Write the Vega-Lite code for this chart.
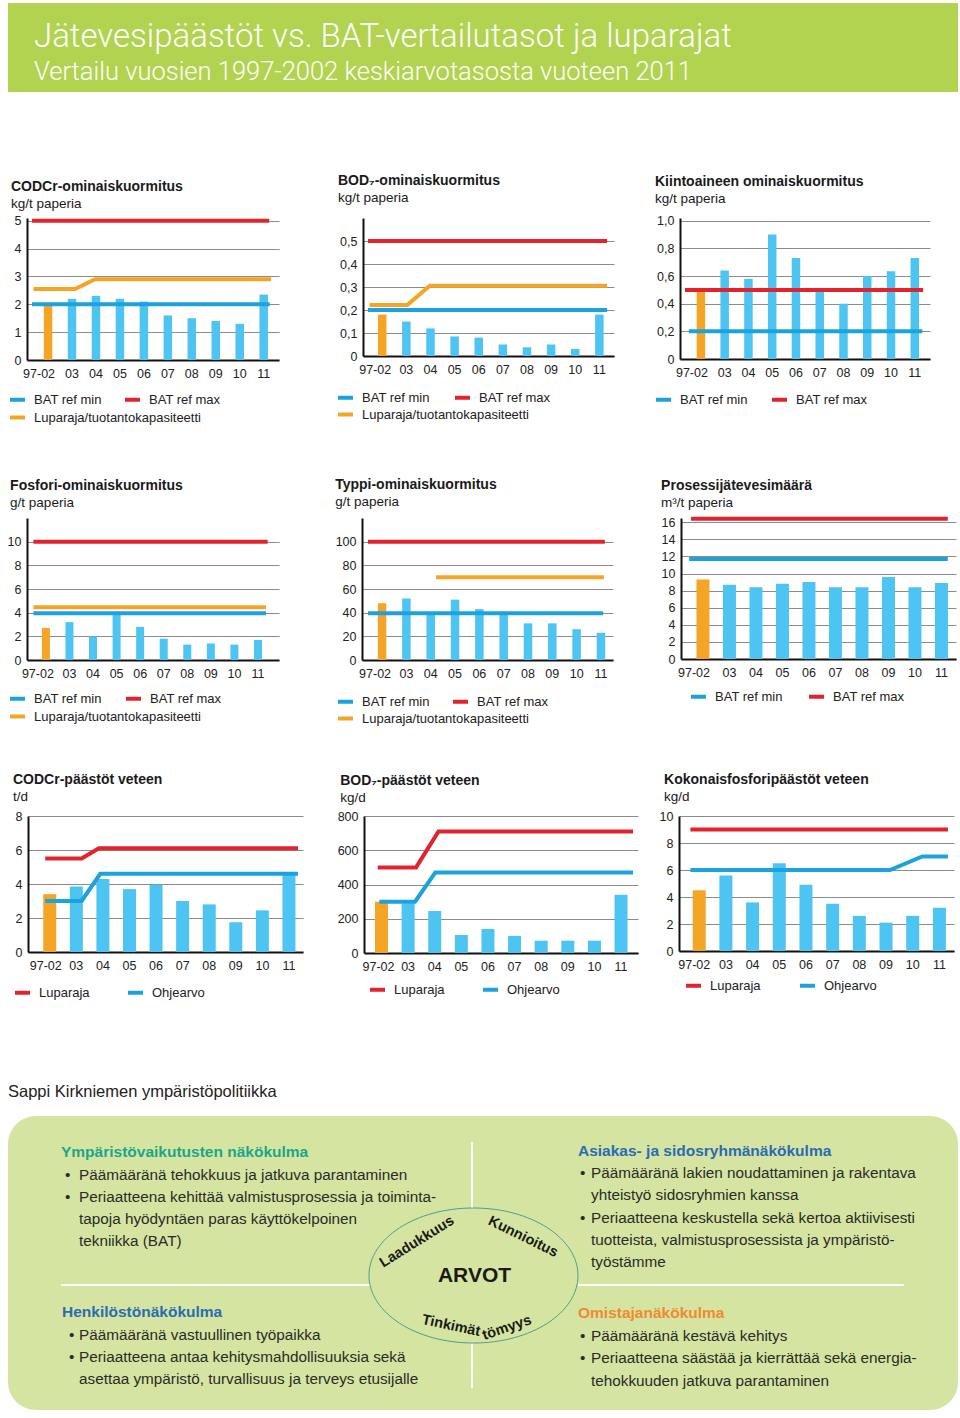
{
"$schema": "https://vega.github.io/schema/vega-lite/v6.json",
"background": "white",
"padding": {"left": 7, "top": 3, "right": 3, "bottom": 3},
"config": {
  "view": {"stroke": null},
  "font": "Liberation Sans",
  "title": {"anchor": "start", "frame": "bounds", "fontSize": 14, "fontWeight": "bold", "subtitleFontSize": 13.5, "subtitlePadding": 3, "color": "#1a1a1a", "subtitleColor": "#1a1a1a", "font": "Liberation Sans", "subtitleFont": "Liberation Sans"},
  "axisY": {"domainColor": "#111", "domainWidth": 2, "ticks": false, "labelPadding": 6, "labelFontSize": 12.5, "labelColor": "#222", "labelOverlap": false, "gridColor": "#8c8c8c", "gridWidth": 1, "grid": true},
  "axisX": {"labels": false, "ticks": false, "grid": false, "domainColor": "#111", "domainWidth": 2, "zindex": 1},
  "legend": {"orient": "none", "direction": "horizontal", "symbolType": "stroke", "symbolStrokeWidth": 4, "symbolSize": 225, "labelFontSize": 13, "labelColor": "#222", "labelOffset": 7, "labelLimit": 260}
},
"datasets": {
  "bars": [
    {"c":"cod","year":"97-02","i":0,"v":2.0},{"c":"cod","year":"03","i":1,"v":2.2},{"c":"cod","year":"04","i":2,"v":2.3},{"c":"cod","year":"05","i":3,"v":2.2},{"c":"cod","year":"06","i":4,"v":2.1},{"c":"cod","year":"07","i":5,"v":1.6},{"c":"cod","year":"08","i":6,"v":1.5},{"c":"cod","year":"09","i":7,"v":1.4},{"c":"cod","year":"10","i":8,"v":1.3},{"c":"cod","year":"11","i":9,"v":2.35},
    {"c":"bod","year":"97-02","i":0,"v":0.18},{"c":"bod","year":"03","i":1,"v":0.15},{"c":"bod","year":"04","i":2,"v":0.12},{"c":"bod","year":"05","i":3,"v":0.085},{"c":"bod","year":"06","i":4,"v":0.08},{"c":"bod","year":"07","i":5,"v":0.05},{"c":"bod","year":"08","i":6,"v":0.038},{"c":"bod","year":"09","i":7,"v":0.05},{"c":"bod","year":"10","i":8,"v":0.031},{"c":"bod","year":"11","i":9,"v":0.18},
    {"c":"kiinto","year":"97-02","i":0,"v":0.5},{"c":"kiinto","year":"03","i":1,"v":0.64},{"c":"kiinto","year":"04","i":2,"v":0.58},{"c":"kiinto","year":"05","i":3,"v":0.9},{"c":"kiinto","year":"06","i":4,"v":0.73},{"c":"kiinto","year":"07","i":5,"v":0.49},{"c":"kiinto","year":"08","i":6,"v":0.4},{"c":"kiinto","year":"09","i":7,"v":0.6},{"c":"kiinto","year":"10","i":8,"v":0.635},{"c":"kiinto","year":"11","i":9,"v":0.73},
    {"c":"fosfori","year":"97-02","i":0,"v":2.7},{"c":"fosfori","year":"03","i":1,"v":3.2},{"c":"fosfori","year":"04","i":2,"v":2.0},{"c":"fosfori","year":"05","i":3,"v":3.8},{"c":"fosfori","year":"06","i":4,"v":2.8},{"c":"fosfori","year":"07","i":5,"v":1.8},{"c":"fosfori","year":"08","i":6,"v":1.3},{"c":"fosfori","year":"09","i":7,"v":1.4},{"c":"fosfori","year":"10","i":8,"v":1.3},{"c":"fosfori","year":"11","i":9,"v":1.7},
    {"c":"typpi","year":"97-02","i":0,"v":48},{"c":"typpi","year":"03","i":1,"v":52},{"c":"typpi","year":"04","i":2,"v":39},{"c":"typpi","year":"05","i":3,"v":51},{"c":"typpi","year":"06","i":4,"v":43},{"c":"typpi","year":"07","i":5,"v":39},{"c":"typpi","year":"08","i":6,"v":31},{"c":"typpi","year":"09","i":7,"v":31},{"c":"typpi","year":"10","i":8,"v":26},{"c":"typpi","year":"11","i":9,"v":23},
    {"c":"prosessi","year":"97-02","i":0,"v":9.3},{"c":"prosessi","year":"03","i":1,"v":8.7},{"c":"prosessi","year":"04","i":2,"v":8.4},{"c":"prosessi","year":"05","i":3,"v":8.8},{"c":"prosessi","year":"06","i":4,"v":9.0},{"c":"prosessi","year":"07","i":5,"v":8.4},{"c":"prosessi","year":"08","i":6,"v":8.4},{"c":"prosessi","year":"09","i":7,"v":9.6},{"c":"prosessi","year":"10","i":8,"v":8.4},{"c":"prosessi","year":"11","i":9,"v":8.9},
    {"c":"codp","year":"97-02","i":0,"v":3.4},{"c":"codp","year":"03","i":1,"v":3.85},{"c":"codp","year":"04","i":2,"v":4.3},{"c":"codp","year":"05","i":3,"v":3.7},{"c":"codp","year":"06","i":4,"v":3.95},{"c":"codp","year":"07","i":5,"v":3.0},{"c":"codp","year":"08","i":6,"v":2.8},{"c":"codp","year":"09","i":7,"v":1.75},{"c":"codp","year":"10","i":8,"v":2.45},{"c":"codp","year":"11","i":9,"v":4.6},
    {"c":"bodp","year":"97-02","i":0,"v":300},{"c":"bodp","year":"03","i":1,"v":290},{"c":"bodp","year":"04","i":2,"v":245},{"c":"bodp","year":"05","i":3,"v":105},{"c":"bodp","year":"06","i":4,"v":140},{"c":"bodp","year":"07","i":5,"v":100},{"c":"bodp","year":"08","i":6,"v":72},{"c":"bodp","year":"09","i":7,"v":72},{"c":"bodp","year":"10","i":8,"v":72},{"c":"bodp","year":"11","i":9,"v":340},
    {"c":"fosp","year":"97-02","i":0,"v":4.5},{"c":"fosp","year":"03","i":1,"v":5.6},{"c":"fosp","year":"04","i":2,"v":3.6},{"c":"fosp","year":"05","i":3,"v":6.5},{"c":"fosp","year":"06","i":4,"v":4.9},{"c":"fosp","year":"07","i":5,"v":3.5},{"c":"fosp","year":"08","i":6,"v":2.6},{"c":"fosp","year":"09","i":7,"v":2.1},{"c":"fosp","year":"10","i":8,"v":2.6},{"c":"fosp","year":"11","i":9,"v":3.2}
  ],
  "lines": [
    {"c":"cod","s":"BAT ref max","i":-0.67,"v":5},{"c":"cod","s":"BAT ref max","i":9.23,"v":5},
    {"c":"cod","s":"BAT ref min","i":-0.67,"v":2},{"c":"cod","s":"BAT ref min","i":9.25,"v":2},
    {"c":"cod","s":"Luparaja/tuotantokapasiteetti","i":-0.61,"v":2.55},{"c":"cod","s":"Luparaja/tuotantokapasiteetti","i":1.13,"v":2.55},{"c":"cod","s":"Luparaja/tuotantokapasiteetti","i":1.96,"v":2.9},{"c":"cod","s":"Luparaja/tuotantokapasiteetti","i":9.31,"v":2.9},
    {"c":"bod","s":"BAT ref max","i":-0.59,"v":0.5},{"c":"bod","s":"BAT ref max","i":9.32,"v":0.5},
    {"c":"bod","s":"BAT ref min","i":-0.59,"v":0.2},{"c":"bod","s":"BAT ref min","i":9.32,"v":0.2},
    {"c":"bod","s":"Luparaja/tuotantokapasiteetti","i":-0.53,"v":0.222},{"c":"bod","s":"Luparaja/tuotantokapasiteetti","i":1.04,"v":0.222},{"c":"bod","s":"Luparaja/tuotantokapasiteetti","i":1.97,"v":0.305},{"c":"bod","s":"Luparaja/tuotantokapasiteetti","i":9.32,"v":0.305},
    {"c":"kiinto","s":"BAT ref max","i":-0.67,"v":0.5},{"c":"kiinto","s":"BAT ref max","i":9.35,"v":0.5},
    {"c":"kiinto","s":"BAT ref min","i":-0.51,"v":0.2},{"c":"kiinto","s":"BAT ref min","i":9.32,"v":0.2},
    {"c":"fosfori","s":"BAT ref max","i":-0.53,"v":10},{"c":"fosfori","s":"BAT ref max","i":9.41,"v":10},
    {"c":"fosfori","s":"BAT ref min","i":-0.53,"v":3.95},{"c":"fosfori","s":"BAT ref min","i":9.34,"v":3.95},
    {"c":"fosfori","s":"Luparaja/tuotantokapasiteetti","i":-0.53,"v":4.45},{"c":"fosfori","s":"Luparaja/tuotantokapasiteetti","i":9.34,"v":4.45},
    {"c":"typpi","s":"BAT ref max","i":-0.58,"v":100},{"c":"typpi","s":"BAT ref max","i":9.16,"v":100},
    {"c":"typpi","s":"BAT ref min","i":-0.58,"v":39.5},{"c":"typpi","s":"BAT ref min","i":9.09,"v":39.5},
    {"c":"typpi","s":"Luparaja/tuotantokapasiteetti","i":2.22,"v":70},{"c":"typpi","s":"Luparaja/tuotantokapasiteetti","i":9.12,"v":70},
    {"c":"prosessi","s":"BAT ref max","i":-0.45,"v":16.4},{"c":"prosessi","s":"BAT ref max","i":9.24,"v":16.4},
    {"c":"prosessi","s":"BAT ref min","i":-0.52,"v":11.7},{"c":"prosessi","s":"BAT ref min","i":9.24,"v":11.7},
    {"c":"codp","s":"Luparaja","i":-0.17,"v":5.5},{"c":"codp","s":"Luparaja","i":1.2,"v":5.5},{"c":"codp","s":"Luparaja","i":1.85,"v":6.1},{"c":"codp","s":"Luparaja","i":9.34,"v":6.1},
    {"c":"codp","s":"Ohjearvo","i":-0.17,"v":3.0},{"c":"codp","s":"Ohjearvo","i":1.2,"v":3.0},{"c":"codp","s":"Ohjearvo","i":1.9,"v":4.6},{"c":"codp","s":"Ohjearvo","i":9.34,"v":4.6},
    {"c":"bodp","s":"Luparaja","i":-0.14,"v":500},{"c":"bodp","s":"Luparaja","i":1.3,"v":500},{"c":"bodp","s":"Luparaja","i":2.14,"v":710},{"c":"bodp","s":"Luparaja","i":9.45,"v":710},
    {"c":"bodp","s":"Ohjearvo","i":-0.08,"v":300},{"c":"bodp","s":"Ohjearvo","i":1.26,"v":300},{"c":"bodp","s":"Ohjearvo","i":2.02,"v":470},{"c":"bodp","s":"Ohjearvo","i":9.45,"v":470},
    {"c":"fosp","s":"Luparaja","i":-0.33,"v":9},{"c":"fosp","s":"Luparaja","i":9.32,"v":9},
    {"c":"fosp","s":"Ohjearvo","i":-0.33,"v":6},{"c":"fosp","s":"Ohjearvo","i":7.15,"v":6},{"c":"fosp","s":"Ohjearvo","i":8.36,"v":7},{"c":"fosp","s":"Ohjearvo","i":9.32,"v":7}
  ]
},
"spacing": 0,
"bounds": "flush",
"resolve": {"scale": {"color": "independent", "stroke": "independent"}, "legend": {"color": "independent", "stroke": "independent"}},
"vconcat": [
  {
    "width": 950, "height": 89,
    "view": {"fill": "#b2d34f", "stroke": null},
    "layer": [
      {"data": {"values": [{"t": "Jätevesipäästöt vs. BAT-vertailutasot ja luparajat"}]},
       "mark": {"type": "text", "font": "Roboto", "fontWeight": 300, "fontSize": 33, "color": "white", "align": "left", "baseline": "alphabetic"},
       "encoding": {"x": {"value": 26}, "y": {"value": 44}, "text": {"field": "t"}}},
      {"data": {"values": [{"t": "Vertailu vuosien 1997-2002 keskiarvotasosta vuoteen 2011"}]},
       "mark": {"type": "text", "font": "Roboto", "fontWeight": 300, "fontSize": 25.5, "color": "white", "align": "left", "baseline": "alphabetic"},
       "encoding": {"x": {"value": 26}, "y": {"value": 77}, "text": {"field": "t"}}}
    ]
  },
  {"width": 10, "height": 126, "data": {"values": []}, "mark": "point"},
  {
    "spacing": 0, "bounds": "flush",
    "resolve": {"scale": {"color": "independent", "stroke": "independent"}, "legend": {"color": "independent", "stroke": "independent"}},
    "hconcat": [
      {"width": 19, "height": 1, "data": {"values": []}, "mark": "point"},
      {
        "width": 252, "height": 142,
        "title": {"text": "CODCr-ominaiskuormitus", "subtitle": "kg/t paperia", "offset": 2, "dx": 3},
        "layer": [
          {"data": {"name": "bars"}, "transform": [{"filter": {"field": "c", "equal": "cod"}}],
           "mark": {"type": "bar", "width": 8.5},
           "encoding": {
             "x": {"field": "i", "type": "quantitative", "scale": {"domain": [-0.67, 9.43], "nice": false, "zero": false}, "axis": {"title": null}},
             "y": {"field": "v", "type": "quantitative", "scale": {"domain": [0, 5.1], "nice": false}, "axis": {"title": null, "values": [0,1,2,3,4,5]}},
             "color": {"condition": {"test": "datum.year === '97-02'", "value": "#f4a526"}, "value": "#4ec4f2"}}},
          {"data": {"name": "bars"}, "transform": [{"filter": {"field": "c", "equal": "cod"}}, {"filter": "datum.year !== '97-02'"}],
           "mark": {"type": "text", "dy": 14, "fontSize": 12.5, "color": "#222"},
           "encoding": {"x": {"field": "i", "type": "quantitative", "axis": {"title": null}}, "y": {"datum": 0, "type": "quantitative", "axis": {"title": null, "values": [0,1,2,3,4,5]}}, "text": {"field": "year"}}},
          {"data": {"name": "bars"}, "transform": [{"filter": {"field": "c", "equal": "cod"}}, {"filter": "datum.year === '97-02'"}],
           "mark": {"type": "text", "dy": 14, "dx": -9, "fontSize": 12.5, "color": "#222"},
           "encoding": {"x": {"field": "i", "type": "quantitative", "axis": {"title": null}}, "y": {"datum": 0, "type": "quantitative", "axis": {"title": null, "values": [0,1,2,3,4,5]}}, "text": {"field": "year"}}},
          {"data": {"name": "lines"}, "transform": [{"filter": {"field": "c", "equal": "cod"}}, {"filter": "datum.s !== 'Luparaja/tuotantokapasiteetti'"}],
           "mark": {"type": "line", "strokeWidth": 4, "strokeCap": "butt"},
           "encoding": {"x": {"field": "i", "type": "quantitative", "axis": {"title": null}}, "y": {"field": "v", "type": "quantitative", "axis": {"title": null, "values": [0,1,2,3,4,5]}},
             "color": {"field": "s", "type": "nominal", "scale": {"domain": ["BAT ref min", "BAT ref max"], "range": ["#1ca2dd", "#e3232c"]},
               "legend": {"title": null, "legendX": -19, "legendY": 172, "columnPadding": 15}}}},
          {"data": {"name": "lines"}, "transform": [{"filter": {"field": "c", "equal": "cod"}}, {"filter": "datum.s === 'Luparaja/tuotantokapasiteetti'"}],
           "mark": {"type": "line", "strokeWidth": 4, "strokeCap": "butt"},
           "encoding": {"x": {"field": "i", "type": "quantitative", "axis": {"title": null}}, "y": {"field": "v", "type": "quantitative", "axis": {"title": null, "values": [0,1,2,3,4,5]}},
             "stroke": {"field": "s", "type": "nominal", "scale": {"domain": ["Luparaja/tuotantokapasiteetti"], "range": ["#f4a526"]},
               "legend": {"title": null, "legendX": -19, "legendY": 190}}}}
        ]
      },
      {"width": 84, "height": 1, "data": {"values": []}, "mark": "point"},
      {
        "width": 251, "height": 138,
        "title": {"text": "BOD₇-ominaiskuormitus", "subtitle": "kg/t paperia", "offset": 14, "dx": 2},
        "layer": [
          {"data": {"name": "bars"}, "transform": [{"filter": {"field": "c", "equal": "bod"}}],
           "mark": {"type": "bar", "width": 8.5},
           "encoding": {
             "x": {"field": "i", "type": "quantitative", "scale": {"domain": [-0.59, 9.4], "nice": false, "zero": false}, "axis": {"title": null}},
             "y": {"field": "v", "type": "quantitative", "scale": {"domain": [0, 0.6], "nice": false}, "axis": {"title": null, "values": [0,0.1,0.2,0.3,0.4,0.5], "labelExpr": "datum.value == 0 ? '0' : replace(format(datum.value, '.1f'), '.', ',')"}},
             "color": {"condition": {"test": "datum.year === '97-02'", "value": "#f4a526"}, "value": "#4ec4f2"}}},
          {"data": {"name": "bars"}, "transform": [{"filter": {"field": "c", "equal": "bod"}}, {"filter": "datum.year !== '97-02'"}],
           "mark": {"type": "text", "dy": 14, "fontSize": 12.5, "color": "#222"},
           "encoding": {"x": {"field": "i", "type": "quantitative", "axis": {"title": null}}, "y": {"datum": 0, "type": "quantitative", "axis": {"title": null, "values": [0,0.1,0.2,0.3,0.4,0.5], "labelExpr": "datum.value == 0 ? '0' : replace(format(datum.value, '.1f'), '.', ',')"}}, "text": {"field": "year"}}},
          {"data": {"name": "bars"}, "transform": [{"filter": {"field": "c", "equal": "bod"}}, {"filter": "datum.year === '97-02'"}],
           "mark": {"type": "text", "dy": 14, "dx": -7, "fontSize": 12.5, "color": "#222"},
           "encoding": {"x": {"field": "i", "type": "quantitative", "axis": {"title": null}}, "y": {"datum": 0, "type": "quantitative", "axis": {"title": null, "values": [0,0.1,0.2,0.3,0.4,0.5], "labelExpr": "datum.value == 0 ? '0' : replace(format(datum.value, '.1f'), '.', ',')"}}, "text": {"field": "year"}}},
          {"data": {"name": "lines"}, "transform": [{"filter": {"field": "c", "equal": "bod"}}, {"filter": "datum.s !== 'Luparaja/tuotantokapasiteetti'"}],
           "mark": {"type": "line", "strokeWidth": 4, "strokeCap": "butt"},
           "encoding": {"x": {"field": "i", "type": "quantitative", "axis": {"title": null}}, "y": {"field": "v", "type": "quantitative", "axis": {"title": null, "values": [0,0.1,0.2,0.3,0.4,0.5], "labelExpr": "datum.value == 0 ? '0' : replace(format(datum.value, '.1f'), '.', ',')"}},
             "color": {"field": "s", "type": "nominal", "scale": {"domain": ["BAT ref min", "BAT ref max"], "range": ["#1ca2dd", "#e3232c"]},
               "legend": {"title": null, "legendX": -27, "legendY": 170, "columnPadding": 17}}}},
          {"data": {"name": "lines"}, "transform": [{"filter": {"field": "c", "equal": "bod"}}, {"filter": "datum.s === 'Luparaja/tuotantokapasiteetti'"}],
           "mark": {"type": "line", "strokeWidth": 4, "strokeCap": "butt"},
           "encoding": {"x": {"field": "i", "type": "quantitative", "axis": {"title": null}}, "y": {"field": "v", "type": "quantitative", "axis": {"title": null, "values": [0,0.1,0.2,0.3,0.4,0.5], "labelExpr": "datum.value == 0 ? '0' : replace(format(datum.value, '.1f'), '.', ',')"}},
             "stroke": {"field": "s", "type": "nominal", "scale": {"domain": ["Luparaja/tuotantokapasiteetti"], "range": ["#f4a526"]},
               "legend": {"title": null, "legendX": -27, "legendY": 187}}}}
        ]
      },
      {"width": 66, "height": 1, "data": {"values": []}, "mark": "point"},
      {
        "width": 250, "height": 141,
        "title": {"text": "Kiintoaineen ominaiskuormitus", "subtitle": "kg/t paperia", "offset": 9, "dx": 1},
        "layer": [
          {"data": {"name": "bars"}, "transform": [{"filter": {"field": "c", "equal": "kiinto"}}],
           "mark": {"type": "bar", "width": 8.5},
           "encoding": {
             "x": {"field": "i", "type": "quantitative", "scale": {"domain": [-0.67, 9.43], "nice": false, "zero": false}, "axis": {"title": null}},
             "y": {"field": "v", "type": "quantitative", "scale": {"domain": [0, 1.02], "nice": false}, "axis": {"title": null, "values": [0,0.2,0.4,0.6,0.8,1.0], "labelExpr": "datum.value == 0 ? '0' : replace(format(datum.value, '.1f'), '.', ',')"}},
             "color": {"condition": {"test": "datum.year === '97-02'", "value": "#f4a526"}, "value": "#4ec4f2"}}},
          {"data": {"name": "bars"}, "transform": [{"filter": {"field": "c", "equal": "kiinto"}}, {"filter": "datum.year !== '97-02'"}],
           "mark": {"type": "text", "dy": 14, "fontSize": 12.5, "color": "#222"},
           "encoding": {"x": {"field": "i", "type": "quantitative", "axis": {"title": null}}, "y": {"datum": 0, "type": "quantitative", "axis": {"title": null, "values": [0,0.2,0.4,0.6,0.8,1.0], "labelExpr": "datum.value == 0 ? '0' : replace(format(datum.value, '.1f'), '.', ',')"}}, "text": {"field": "year"}}},
          {"data": {"name": "bars"}, "transform": [{"filter": {"field": "c", "equal": "kiinto"}}, {"filter": "datum.year === '97-02'"}],
           "mark": {"type": "text", "dy": 14, "dx": -9, "fontSize": 12.5, "color": "#222"},
           "encoding": {"x": {"field": "i", "type": "quantitative", "axis": {"title": null}}, "y": {"datum": 0, "type": "quantitative", "axis": {"title": null, "values": [0,0.2,0.4,0.6,0.8,1.0], "labelExpr": "datum.value == 0 ? '0' : replace(format(datum.value, '.1f'), '.', ',')"}}, "text": {"field": "year"}}},
          {"data": {"name": "lines"}, "transform": [{"filter": {"field": "c", "equal": "kiinto"}}],
           "mark": {"type": "line", "strokeWidth": 4, "strokeCap": "butt"},
           "encoding": {"x": {"field": "i", "type": "quantitative", "axis": {"title": null}}, "y": {"field": "v", "type": "quantitative", "axis": {"title": null, "values": [0,0.2,0.4,0.6,0.8,1.0], "labelExpr": "datum.value == 0 ? '0' : replace(format(datum.value, '.1f'), '.', ',')"}},
             "color": {"field": "s", "type": "nominal", "scale": {"domain": ["BAT ref min", "BAT ref max"], "range": ["#1ca2dd", "#e3232c"]},
               "legend": {"title": null, "legendX": -26, "legendY": 172, "columnPadding": 16}}}}
        ]
      }
    ]
  },
  {"width": 10, "height": 300, "data": {"values": []}, "mark": "point"},
  {
    "spacing": 0, "bounds": "flush",
    "resolve": {"scale": {"color": "independent", "stroke": "independent"}, "legend": {"color": "independent", "stroke": "independent"}},
    "hconcat": [
      {"width": 19, "height": 1, "data": {"values": []}, "mark": "point"},
      {
        "width": 252, "height": 142,
        "title": {"text": "Fosfori-ominaiskuormitus", "subtitle": "g/t paperia", "offset": 9, "dx": 3},
        "layer": [
          {"data": {"name": "bars"}, "transform": [{"filter": {"field": "c", "equal": "fosfori"}}],
           "mark": {"type": "bar", "width": 8},
           "encoding": {
             "x": {"field": "i", "type": "quantitative", "scale": {"domain": [-0.59, 9.68], "nice": false, "zero": false}, "axis": {"title": null}},
             "y": {"field": "v", "type": "quantitative", "scale": {"domain": [0, 12], "nice": false}, "axis": {"title": null, "values": [0,2,4,6,8,10]}},
             "color": {"condition": {"test": "datum.year === '97-02'", "value": "#f4a526"}, "value": "#4ec4f2"}}},
          {"data": {"name": "bars"}, "transform": [{"filter": {"field": "c", "equal": "fosfori"}}, {"filter": "datum.year !== '97-02'"}],
           "mark": {"type": "text", "dy": 14, "fontSize": 12.5, "color": "#222"},
           "encoding": {"x": {"field": "i", "type": "quantitative", "axis": {"title": null}}, "y": {"datum": 0, "type": "quantitative", "axis": {"title": null, "values": [0,2,4,6,8,10]}}, "text": {"field": "year"}}},
          {"data": {"name": "bars"}, "transform": [{"filter": {"field": "c", "equal": "fosfori"}}, {"filter": "datum.year === '97-02'"}],
           "mark": {"type": "text", "dy": 14, "dx": -8, "fontSize": 12.5, "color": "#222"},
           "encoding": {"x": {"field": "i", "type": "quantitative", "axis": {"title": null}}, "y": {"datum": 0, "type": "quantitative", "axis": {"title": null, "values": [0,2,4,6,8,10]}}, "text": {"field": "year"}}},
          {"data": {"name": "lines"}, "transform": [{"filter": {"field": "c", "equal": "fosfori"}}, {"filter": "datum.s !== 'Luparaja/tuotantokapasiteetti'"}],
           "mark": {"type": "line", "strokeWidth": 4, "strokeCap": "butt"},
           "encoding": {"x": {"field": "i", "type": "quantitative", "axis": {"title": null}}, "y": {"field": "v", "type": "quantitative", "axis": {"title": null, "values": [0,2,4,6,8,10]}},
             "color": {"field": "s", "type": "nominal", "scale": {"domain": ["BAT ref min", "BAT ref max"], "range": ["#1ca2dd", "#e3232c"]},
               "legend": {"title": null, "legendX": -19, "legendY": 171, "columnPadding": 16}}}},
          {"data": {"name": "lines"}, "transform": [{"filter": {"field": "c", "equal": "fosfori"}}, {"filter": "datum.s === 'Luparaja/tuotantokapasiteetti'"}],
           "mark": {"type": "line", "strokeWidth": 4, "strokeCap": "butt"},
           "encoding": {"x": {"field": "i", "type": "quantitative", "axis": {"title": null}}, "y": {"field": "v", "type": "quantitative", "axis": {"title": null, "values": [0,2,4,6,8,10]}},
             "stroke": {"field": "s", "type": "nominal", "scale": {"domain": ["Luparaja/tuotantokapasiteetti"], "range": ["#f4a526"]},
               "legend": {"title": null, "legendX": -19, "legendY": 189}}}}
        ]
      },
      {"width": 83, "height": 1, "data": {"values": []}, "mark": "point"},
      {
        "width": 251, "height": 142,
        "title": {"text": "Typpi-ominaiskuormitus", "subtitle": "g/t paperia", "offset": 10},
        "layer": [
          {"data": {"name": "bars"}, "transform": [{"filter": {"field": "c", "equal": "typpi"}}],
           "mark": {"type": "bar", "width": 8.5},
           "encoding": {
             "x": {"field": "i", "type": "quantitative", "scale": {"domain": [-0.62, 9.29], "nice": false, "zero": false}, "axis": {"title": null}},
             "y": {"field": "v", "type": "quantitative", "scale": {"domain": [0, 120], "nice": false}, "axis": {"title": null, "values": [0,20,40,60,80,100]}},
             "color": {"condition": {"test": "datum.year === '97-02'", "value": "#f4a526"}, "value": "#4ec4f2"}}},
          {"data": {"name": "bars"}, "transform": [{"filter": {"field": "c", "equal": "typpi"}}, {"filter": "datum.year !== '97-02'"}],
           "mark": {"type": "text", "dy": 14, "fontSize": 12.5, "color": "#222"},
           "encoding": {"x": {"field": "i", "type": "quantitative", "axis": {"title": null}}, "y": {"datum": 0, "type": "quantitative", "axis": {"title": null, "values": [0,20,40,60,80,100]}}, "text": {"field": "year"}}},
          {"data": {"name": "bars"}, "transform": [{"filter": {"field": "c", "equal": "typpi"}}, {"filter": "datum.year === '97-02'"}],
           "mark": {"type": "text", "dy": 14, "dx": -7, "fontSize": 12.5, "color": "#222"},
           "encoding": {"x": {"field": "i", "type": "quantitative", "axis": {"title": null}}, "y": {"datum": 0, "type": "quantitative", "axis": {"title": null, "values": [0,20,40,60,80,100]}}, "text": {"field": "year"}}},
          {"data": {"name": "lines"}, "transform": [{"filter": {"field": "c", "equal": "typpi"}}, {"filter": "datum.s !== 'Luparaja/tuotantokapasiteetti'"}],
           "mark": {"type": "line", "strokeWidth": 4, "strokeCap": "butt"},
           "encoding": {"x": {"field": "i", "type": "quantitative", "axis": {"title": null}}, "y": {"field": "v", "type": "quantitative", "axis": {"title": null, "values": [0,20,40,60,80,100]}},
             "color": {"field": "s", "type": "nominal", "scale": {"domain": ["BAT ref min", "BAT ref max"], "range": ["#1ca2dd", "#e3232c"]},
               "legend": {"title": null, "legendX": -26, "legendY": 174, "columnPadding": 15}}}},
          {"data": {"name": "lines"}, "transform": [{"filter": {"field": "c", "equal": "typpi"}}, {"filter": "datum.s === 'Luparaja/tuotantokapasiteetti'"}],
           "mark": {"type": "line", "strokeWidth": 4, "strokeCap": "butt"},
           "encoding": {"x": {"field": "i", "type": "quantitative", "axis": {"title": null}}, "y": {"field": "v", "type": "quantitative", "axis": {"title": null, "values": [0,20,40,60,80,100]}},
             "stroke": {"field": "s", "type": "nominal", "scale": {"domain": ["Luparaja/tuotantokapasiteetti"], "range": ["#f4a526"]},
               "legend": {"title": null, "legendX": -26, "legendY": 191}}}}
        ]
      },
      {"width": 68, "height": 1, "data": {"values": []}, "mark": "point"},
      {
        "width": 275, "height": 141,
        "title": {"text": "Prosessijätevesimäärä", "subtitle": "m³/t paperia", "offset": 1},
        "layer": [
          {"data": {"name": "bars"}, "transform": [{"filter": {"field": "c", "equal": "prosessi"}}],
           "mark": {"type": "bar", "width": 13},
           "encoding": {
             "x": {"field": "i", "type": "quantitative", "scale": {"domain": [-0.64, 9.36], "nice": false, "zero": false}, "axis": {"title": null}},
             "y": {"field": "v", "type": "quantitative", "scale": {"domain": [0, 16.5], "nice": false}, "axis": {"title": null, "values": [0,2,4,6,8,10,12,14,16]}},
             "color": {"condition": {"test": "datum.year === '97-02'", "value": "#f4a526"}, "value": "#4ec4f2"}}},
          {"data": {"name": "bars"}, "transform": [{"filter": {"field": "c", "equal": "prosessi"}}, {"filter": "datum.year !== '97-02'"}],
           "mark": {"type": "text", "dy": 14, "fontSize": 12.5, "color": "#222"},
           "encoding": {"x": {"field": "i", "type": "quantitative", "axis": {"title": null}}, "y": {"datum": 0, "type": "quantitative", "axis": {"title": null, "values": [0,2,4,6,8,10,12,14,16]}}, "text": {"field": "year"}}},
          {"data": {"name": "bars"}, "transform": [{"filter": {"field": "c", "equal": "prosessi"}}, {"filter": "datum.year === '97-02'"}],
           "mark": {"type": "text", "dy": 14, "dx": -9, "fontSize": 12.5, "color": "#222"},
           "encoding": {"x": {"field": "i", "type": "quantitative", "axis": {"title": null}}, "y": {"datum": 0, "type": "quantitative", "axis": {"title": null, "values": [0,2,4,6,8,10,12,14,16]}}, "text": {"field": "year"}}},
          {"data": {"name": "lines"}, "transform": [{"filter": {"field": "c", "equal": "prosessi"}}],
           "mark": {"type": "line", "strokeWidth": 4, "strokeCap": "butt"},
           "encoding": {"x": {"field": "i", "type": "quantitative", "axis": {"title": null}}, "y": {"field": "v", "type": "quantitative", "axis": {"title": null, "values": [0,2,4,6,8,10,12,14,16]}},
             "color": {"field": "s", "type": "nominal", "scale": {"domain": ["BAT ref min", "BAT ref max"], "range": ["#1ca2dd", "#e3232c"]},
               "legend": {"title": null, "legendX": 8, "legendY": 169, "columnPadding": 18}}}}
        ]
      }
    ]
  },
  {"width": 10, "height": 298, "data": {"values": []}, "mark": "point"},
  {
    "spacing": 0, "bounds": "flush",
    "resolve": {"scale": {"color": "independent", "stroke": "independent"}, "legend": {"color": "independent", "stroke": "independent"}},
    "hconcat": [
      {"width": 20, "height": 1, "data": {"values": []}, "mark": "point"},
      {
        "width": 275, "height": 136,
        "title": {"text": "CODCr-päästöt veteen", "subtitle": "t/d", "offset": 7},
        "layer": [
          {"data": {"name": "bars"}, "transform": [{"filter": {"field": "c", "equal": "codp"}}],
           "mark": {"type": "bar", "width": 13},
           "encoding": {
             "x": {"field": "i", "type": "quantitative", "scale": {"domain": [-0.63, 9.34], "nice": false, "zero": false}, "axis": {"title": null}},
             "y": {"field": "v", "type": "quantitative", "scale": {"domain": [0, 8], "nice": false}, "axis": {"title": null, "values": [0,2,4,6,8]}},
             "color": {"condition": {"test": "datum.year === '97-02'", "value": "#f4a526"}, "value": "#4ec4f2"}}},
          {"data": {"name": "bars"}, "transform": [{"filter": {"field": "c", "equal": "codp"}}, {"filter": "datum.year !== '97-02'"}],
           "mark": {"type": "text", "dy": 14, "fontSize": 12.5, "color": "#222"},
           "encoding": {"x": {"field": "i", "type": "quantitative", "axis": {"title": null}}, "y": {"datum": 0, "type": "quantitative", "axis": {"title": null, "values": [0,2,4,6,8]}}, "text": {"field": "year"}}},
          {"data": {"name": "bars"}, "transform": [{"filter": {"field": "c", "equal": "codp"}}, {"filter": "datum.year === '97-02'"}],
           "mark": {"type": "text", "dy": 14, "dx": -4, "fontSize": 12.5, "color": "#222"},
           "encoding": {"x": {"field": "i", "type": "quantitative", "axis": {"title": null}}, "y": {"datum": 0, "type": "quantitative", "axis": {"title": null, "values": [0,2,4,6,8]}}, "text": {"field": "year"}}},
          {"data": {"name": "lines"}, "transform": [{"filter": {"field": "c", "equal": "codp"}}],
           "mark": {"type": "line", "strokeWidth": 4, "strokeCap": "butt"},
           "encoding": {"x": {"field": "i", "type": "quantitative", "axis": {"title": null}}, "y": {"field": "v", "type": "quantitative", "axis": {"title": null, "values": [0,2,4,6,8]}},
             "color": {"field": "s", "type": "nominal", "scale": {"domain": ["Luparaja", "Ohjearvo"], "range": ["#e3232c", "#1ca2dd"]},
               "legend": {"title": null, "legendX": -15, "legendY": 167, "columnPadding": 30}}}}
        ]
      },
      {"width": 61, "height": 1, "data": {"values": []}, "mark": "point"},
      {
        "width": 274, "height": 137,
        "title": {"text": "BOD₇-päästöt veteen", "subtitle": "kg/d", "offset": 6, "dx": 3},
        "layer": [
          {"data": {"name": "bars"}, "transform": [{"filter": {"field": "c", "equal": "bodp"}}],
           "mark": {"type": "bar", "width": 13},
           "encoding": {
             "x": {"field": "i", "type": "quantitative", "scale": {"domain": [-0.47, 9.45], "nice": false, "zero": false}, "axis": {"title": null}},
             "y": {"field": "v", "type": "quantitative", "scale": {"domain": [0, 800], "nice": false}, "axis": {"title": null, "values": [0,200,400,600,800]}},
             "color": {"condition": {"test": "datum.year === '97-02'", "value": "#f4a526"}, "value": "#4ec4f2"}}},
          {"data": {"name": "bars"}, "transform": [{"filter": {"field": "c", "equal": "bodp"}}, {"filter": "datum.year !== '97-02'"}],
           "mark": {"type": "text", "dy": 14, "fontSize": 12.5, "color": "#222"},
           "encoding": {"x": {"field": "i", "type": "quantitative", "axis": {"title": null}}, "y": {"datum": 0, "type": "quantitative", "axis": {"title": null, "values": [0,200,400,600,800]}}, "text": {"field": "year"}}},
          {"data": {"name": "bars"}, "transform": [{"filter": {"field": "c", "equal": "bodp"}}, {"filter": "datum.year === '97-02'"}],
           "mark": {"type": "text", "dy": 14, "dx": -3, "fontSize": 12.5, "color": "#222"},
           "encoding": {"x": {"field": "i", "type": "quantitative", "axis": {"title": null}}, "y": {"datum": 0, "type": "quantitative", "axis": {"title": null, "values": [0,200,400,600,800]}}, "text": {"field": "year"}}},
          {"data": {"name": "lines"}, "transform": [{"filter": {"field": "c", "equal": "bodp"}}],
           "mark": {"type": "line", "strokeWidth": 4, "strokeCap": "butt"},
           "encoding": {"x": {"field": "i", "type": "quantitative", "axis": {"title": null}}, "y": {"field": "v", "type": "quantitative", "axis": {"title": null, "values": [0,200,400,600,800]}},
             "color": {"field": "s", "type": "nominal", "scale": {"domain": ["Luparaja", "Ohjearvo"], "range": ["#e3232c", "#1ca2dd"]},
               "legend": {"title": null, "legendX": 4, "legendY": 164, "columnPadding": 30}}}}
        ]
      },
      {"width": 41, "height": 1, "data": {"values": []}, "mark": "point"},
      {
        "width": 275, "height": 135,
        "title": {"text": "Kokonaisfosforipäästöt veteen", "subtitle": "kg/d", "offset": 7, "dx": 5},
        "layer": [
          {"data": {"name": "bars"}, "transform": [{"filter": {"field": "c", "equal": "fosp"}}],
           "mark": {"type": "bar", "width": 13},
           "encoding": {
             "x": {"field": "i", "type": "quantitative", "scale": {"domain": [-0.57, 9.36], "nice": false, "zero": false}, "axis": {"title": null}},
             "y": {"field": "v", "type": "quantitative", "scale": {"domain": [0, 10], "nice": false}, "axis": {"title": null, "values": [0,2,4,6,8,10]}},
             "color": {"condition": {"test": "datum.year === '97-02'", "value": "#f4a526"}, "value": "#4ec4f2"}}},
          {"data": {"name": "bars"}, "transform": [{"filter": {"field": "c", "equal": "fosp"}}, {"filter": "datum.year !== '97-02'"}],
           "mark": {"type": "text", "dy": 14, "fontSize": 12.5, "color": "#222"},
           "encoding": {"x": {"field": "i", "type": "quantitative", "axis": {"title": null}}, "y": {"datum": 0, "type": "quantitative", "axis": {"title": null, "values": [0,2,4,6,8,10]}}, "text": {"field": "year"}}},
          {"data": {"name": "bars"}, "transform": [{"filter": {"field": "c", "equal": "fosp"}}, {"filter": "datum.year === '97-02'"}],
           "mark": {"type": "text", "dy": 14, "dx": -5, "fontSize": 12.5, "color": "#222"},
           "encoding": {"x": {"field": "i", "type": "quantitative", "axis": {"title": null}}, "y": {"datum": 0, "type": "quantitative", "axis": {"title": null, "values": [0,2,4,6,8,10]}}, "text": {"field": "year"}}},
          {"data": {"name": "lines"}, "transform": [{"filter": {"field": "c", "equal": "fosp"}}],
           "mark": {"type": "line", "strokeWidth": 4, "strokeCap": "butt"},
           "encoding": {"x": {"field": "i", "type": "quantitative", "axis": {"title": null}}, "y": {"field": "v", "type": "quantitative", "axis": {"title": null, "values": [0,2,4,6,8,10]}},
             "color": {"field": "s", "type": "nominal", "scale": {"domain": ["Luparaja", "Ohjearvo"], "range": ["#e3232c", "#1ca2dd"]},
               "legend": {"title": null, "legendX": 5, "legendY": 160, "columnPadding": 31}}}}
        ]
      }
    ]
  },
  {"width": 10, "height": 300, "data": {"values": []}, "mark": "point"},
  {
    "width": 950, "height": 294,
    "view": {"fill": "#d5e5a1", "stroke": null, "cornerRadius": 28},
    "title": {"text": "Sappi Kirkniemen ympäristöpolitiikka", "fontSize": 16.5, "fontWeight": "normal", "offset": 16, "frame": "group", "anchor": "start", "color": "#222"},
    "layer": [
      {"data": {"values": [{}]}, "mark": {"type": "rule", "color": "white", "strokeWidth": 2},
       "encoding": {"x": {"value": 464}, "y": {"value": 26}, "y2": {"value": 272}}},
      {"data": {"values": [{}]}, "mark": {"type": "rule", "color": "white", "strokeWidth": 2},
       "encoding": {"x": {"value": 53}, "x2": {"value": 363}, "y": {"value": 169}}},
      {"data": {"values": [{}]}, "mark": {"type": "rule", "color": "white", "strokeWidth": 2},
       "encoding": {"x": {"value": 570}, "x2": {"value": 896}, "y": {"value": 169}}},
      {"data": {"values": [{}]}, "mark": {"type": "point", "shape": "M-1,0A1,0.646,0,1,0,1,0A1,0.646,0,1,0,-1,0Z", "size": 43681, "filled": true, "fill": "#d5e5a1", "stroke": "#4f9d8f", "strokeWidth": 1, "opacity": 1},
       "encoding": {"x": {"value": 465.5}, "y": {"value": 159.5}}},
      {"data": {"values": [{"t": "ARVOT"}]}, "mark": {"type": "text", "fontSize": 21, "fontWeight": "bold", "color": "#1a1a1a", "align": "center", "baseline": "middle"},
       "encoding": {"x": {"value": 466.5}, "y": {"value": 160}, "text": {"field": "t"}}},
      {"data": {"values": [{"t": "Laadukkuus"}]}, "mark": {"type": "text", "fontSize": 14.5, "fontWeight": "bold", "color": "#1a1a1a", "align": "center", "baseline": "middle", "angle": 328},
       "encoding": {"x": {"value": 409}, "y": {"value": 126}, "text": {"field": "t"}}},
      {"data": {"values": [{"t": "Kunnioitus"}]}, "mark": {"type": "text", "fontSize": 14.5, "fontWeight": "bold", "color": "#1a1a1a", "align": "center", "baseline": "middle", "angle": 26},
       "encoding": {"x": {"value": 515}, "y": {"value": 121}, "text": {"field": "t"}}},
      {"data": {"values": [{"t": "Tinkimät"}]}, "mark": {"type": "text", "fontSize": 14.5, "fontWeight": "bold", "color": "#1a1a1a", "align": "center", "baseline": "middle", "angle": 12},
       "encoding": {"x": {"value": 443}, "y": {"value": 210}, "text": {"field": "t"}}},
      {"data": {"values": [{"t": "tömyys"}]}, "mark": {"type": "text", "fontSize": 14.5, "fontWeight": "bold", "color": "#1a1a1a", "align": "center", "baseline": "middle", "angle": 341},
       "encoding": {"x": {"value": 499}, "y": {"value": 212}, "text": {"field": "t"}}},
      {"data": {"values": [{"t": "Ympäristövaikutusten näkökulma"}]}, "mark": {"type": "text", "fontSize": 15.5, "fontWeight": "bold", "color": "#1ba58a", "align": "left", "baseline": "middle"},
       "encoding": {"x": {"value": 53}, "y": {"value": 36}, "text": {"field": "t"}}},
      {"data": {"values": [{"t": "•\n•"}]}, "mark": {"type": "text", "fontSize": 15.3, "color": "#2a2a2a", "align": "left", "baseline": "top", "lineBreak": "\n", "lineHeight": 22},
       "encoding": {"x": {"value": 57}, "y": {"value": 52}, "text": {"field": "t"}}},
      {"data": {"values": [{"t": "Päämääränä tehokkuus ja jatkuva parantaminen\nPeriaatteena kehittää valmistusprosessia ja toiminta-\ntapoja hyödyntäen paras käyttökelpoinen\ntekniikka (BAT)"}]}, "mark": {"type": "text", "fontSize": 15.3, "color": "#2a2a2a", "align": "left", "baseline": "top", "lineBreak": "\n", "lineHeight": 22},
       "encoding": {"x": {"value": 71}, "y": {"value": 52}, "text": {"field": "t"}}},
      {"data": {"values": [{"t": "Henkilöstönäkökulma"}]}, "mark": {"type": "text", "fontSize": 15.5, "fontWeight": "bold", "color": "#2a6cb4", "align": "left", "baseline": "middle"},
       "encoding": {"x": {"value": 54}, "y": {"value": 196}, "text": {"field": "t"}}},
      {"data": {"values": [{"t": "•\n•"}]}, "mark": {"type": "text", "fontSize": 15.3, "color": "#2a2a2a", "align": "left", "baseline": "top", "lineBreak": "\n", "lineHeight": 22},
       "encoding": {"x": {"value": 61}, "y": {"value": 212}, "text": {"field": "t"}}},
      {"data": {"values": [{"t": "Päämääränä vastuullinen työpaikka\nPeriaatteena antaa kehitysmahdollisuuksia sekä\nasettaa ympäristö, turvallisuus ja terveys etusijalle"}]}, "mark": {"type": "text", "fontSize": 15.3, "color": "#2a2a2a", "align": "left", "baseline": "top", "lineBreak": "\n", "lineHeight": 22},
       "encoding": {"x": {"value": 71}, "y": {"value": 212}, "text": {"field": "t"}}},
      {"data": {"values": [{"t": "Asiakas- ja sidosryhmänäkökulma"}]}, "mark": {"type": "text", "fontSize": 15.5, "fontWeight": "bold", "color": "#2a6cb4", "align": "left", "baseline": "middle"},
       "encoding": {"x": {"value": 570}, "y": {"value": 35}, "text": {"field": "t"}}},
      {"data": {"values": [{"t": "•"}]}, "mark": {"type": "text", "fontSize": 15.3, "color": "#2a2a2a", "align": "left", "baseline": "top"},
       "encoding": {"x": {"value": 572}, "y": {"value": 50}, "text": {"field": "t"}}},
      {"data": {"values": [{"t": "•"}]}, "mark": {"type": "text", "fontSize": 15.3, "color": "#2a2a2a", "align": "left", "baseline": "top"},
       "encoding": {"x": {"value": 572}, "y": {"value": 94.6}, "text": {"field": "t"}}},
      {"data": {"values": [{"t": "Päämääränä lakien noudattaminen ja rakentava\nyhteistyö sidosryhmien kanssa\nPeriaatteena keskustella sekä kertoa aktiivisesti\ntuotteista, valmistusprosessista ja ympäristö-\ntyöstämme"}]}, "mark": {"type": "text", "fontSize": 15.3, "color": "#2a2a2a", "align": "left", "baseline": "top", "lineBreak": "\n", "lineHeight": 22.3},
       "encoding": {"x": {"value": 583}, "y": {"value": 50}, "text": {"field": "t"}}},
      {"data": {"values": [{"t": "Omistajanäkökulma"}]}, "mark": {"type": "text", "fontSize": 15.5, "fontWeight": "bold", "color": "#f08a30", "align": "left", "baseline": "middle"},
       "encoding": {"x": {"value": 570}, "y": {"value": 197}, "text": {"field": "t"}}},
      {"data": {"values": [{"t": "•\n•"}]}, "mark": {"type": "text", "fontSize": 15.3, "color": "#2a2a2a", "align": "left", "baseline": "top", "lineBreak": "\n", "lineHeight": 22.3},
       "encoding": {"x": {"value": 572}, "y": {"value": 213}, "text": {"field": "t"}}},
      {"data": {"values": [{"t": "Päämääränä kestävä kehitys\nPeriaatteena säästää ja kierrättää sekä energia-\ntehokkuuden jatkuva parantaminen"}]}, "mark": {"type": "text", "fontSize": 15.3, "color": "#2a2a2a", "align": "left", "baseline": "top", "lineBreak": "\n", "lineHeight": 22.3},
       "encoding": {"x": {"value": 583}, "y": {"value": 213}, "text": {"field": "t"}}}
    ]
  }
]
}
